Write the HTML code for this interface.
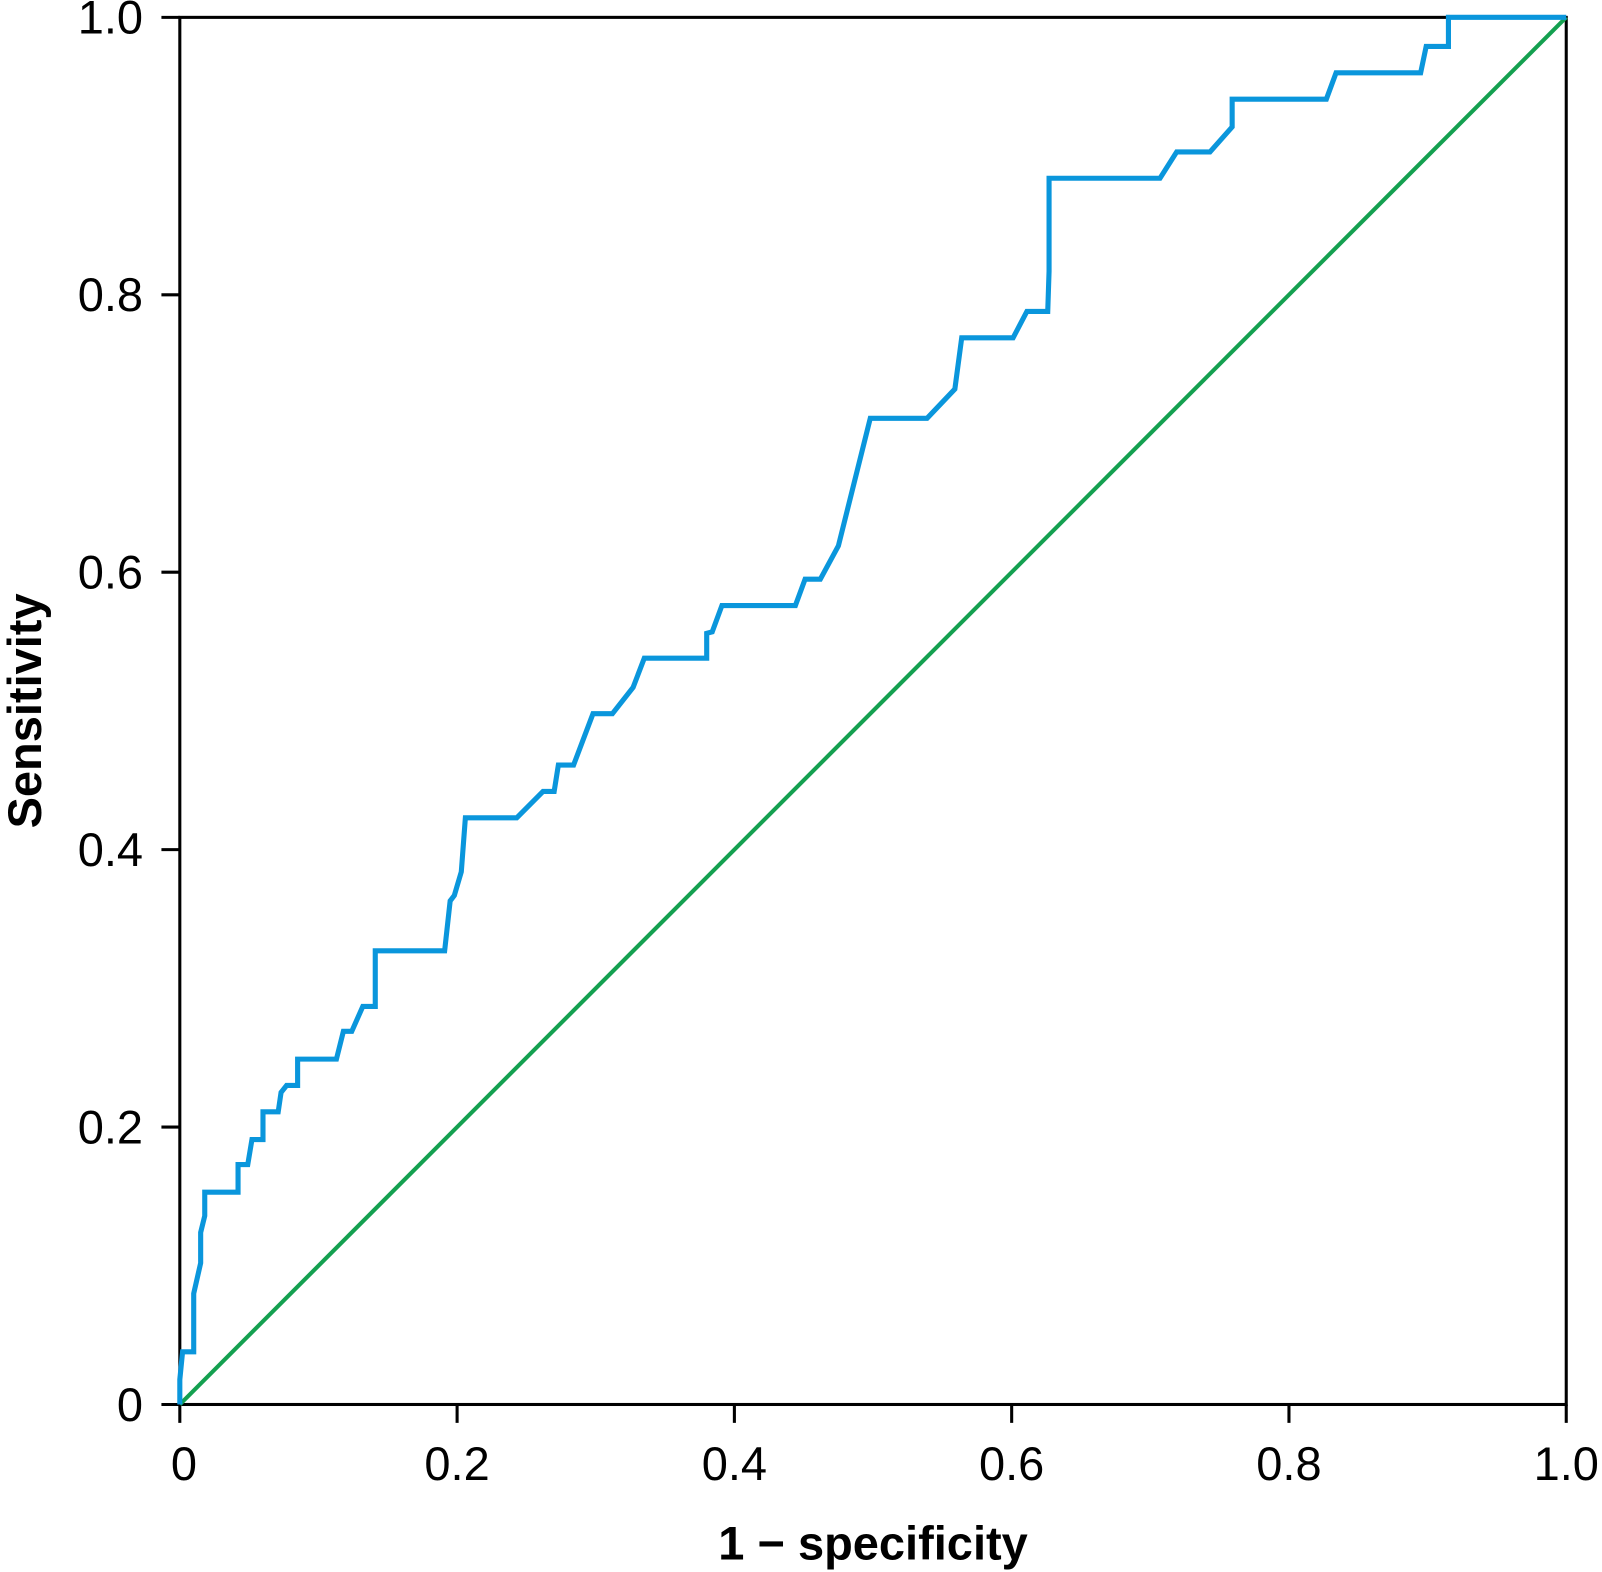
<!DOCTYPE html>
<html><head><meta charset="utf-8"><style>
html,body{margin:0;padding:0;background:#fff;}
svg{display:block;}
text{font-family:"Liberation Sans",sans-serif;fill:#000;}
</style></head><body>
<svg id="chart" width="1602" height="1572" viewBox="0 0 1568 1539" preserveAspectRatio="none" xmlns="http://www.w3.org/2000/svg"></svg>
<script>
const fpr = [0,0,0.002,0.01,0.01,0.015,0.015,0.018,0.018,0.042,0.042,0.049,0.052,0.06,0.06,0.071,0.073,0.077,0.085,0.085,0.113,0.118,0.124,0.132,0.141,0.141,0.191,0.195,0.198,0.203,0.206,0.243,0.262,0.270,0.273,0.284,0.298,0.312,0.327,0.335,0.380,0.380,0.384,0.391,0.444,0.451,0.462,0.475,0.498,0.539,0.559,0.564,0.601,0.611,0.626,0.627,0.627,0.707,0.719,0.743,0.759,0.759,0.827,0.834,0.895,0.899,0.915,0.915,1];
const tpr = [0,0.018,0.038,0.038,0.08,0.102,0.124,0.136,0.153,0.153,0.173,0.173,0.191,0.191,0.211,0.211,0.225,0.230,0.230,0.249,0.249,0.269,0.269,0.287,0.287,0.327,0.327,0.363,0.367,0.384,0.423,0.423,0.442,0.442,0.461,0.461,0.498,0.498,0.517,0.538,0.538,0.556,0.557,0.576,0.576,0.595,0.595,0.619,0.711,0.711,0.732,0.769,0.769,0.788,0.788,0.817,0.884,0.884,0.903,0.903,0.921,0.941,0.941,0.960,0.960,0.979,0.979,1.0,1];
const xTicks = [0,0.2,0.4,0.6,0.8,1.0];
const xTickLabels = ["0","0.2","0.4","0.6","0.8","1.0"];
const yTicks = [0,0.2,0.4,0.6,0.8,1.0];
const yTickLabels = ["0","0.2","0.4","0.6","0.8","1.0"];

const L=176,R=1533,T=17,B=1375;
const sx=v=>L+v*(R-L), sy=v=>B-v*(B-T);
const svg=document.getElementById('chart');
const NS='http://www.w3.org/2000/svg';
function mk(tag,attrs){const e=document.createElementNS(NS,tag);for(const k in attrs)e.setAttribute(k,attrs[k]);svg.appendChild(e);return e;}

let fr=mk('rect',{x:L,y:T,width:R-L,height:B-T,fill:'none',stroke:'#000','stroke-width':3});



xTicks.forEach((t,i)=>{
  let l=mk('line',{x1:sx(t),x2:sx(t),y1:B,y2:B+18,stroke:'#000','stroke-width':3});
  
  
  let tx=mk('text',{x:sx(t)+(i===0?4:0),y:B+74,'font-size':46,'text-anchor':'middle'});
  tx.textContent=xTickLabels[i];
  
  
});
yTicks.forEach((t,i)=>{
  let l=mk('line',{x1:L-18,x2:L,y1:sy(t),y2:sy(t),stroke:'#000','stroke-width':3});
  
  
  let tx=mk('text',{x:L-36,y:sy(t)+16,'font-size':46,'text-anchor':'end'});
  tx.textContent=yTickLabels[i];
  
  
});

let dg=mk('line',{x1:sx(0),y1:sy(0),x2:sx(1),y2:sy(1),stroke:'#14a050','stroke-width':4});



let d=fpr.map((v,i)=>(i?'L':'M')+sx(v).toFixed(1)+','+sy(tpr[i]).toFixed(1)).join(' ');
let pc=mk('path',{d:d,fill:'none',stroke:'#0a96dc','stroke-width':5,'stroke-linejoin':'miter'});



let xt=mk('text',{x:(L+R)/2,y:1527,'font-size':46,'font-weight':'bold','text-anchor':'middle'});
xt.textContent='1 \u2212 specificity';


let yt=mk('text',{x:0,y:0,'font-size':46,'font-weight':'bold','text-anchor':'middle',transform:'translate(40,'+((T+B)/2)+') rotate(-90)'});
yt.textContent='Sensitivity';


</script>
</body></html>
